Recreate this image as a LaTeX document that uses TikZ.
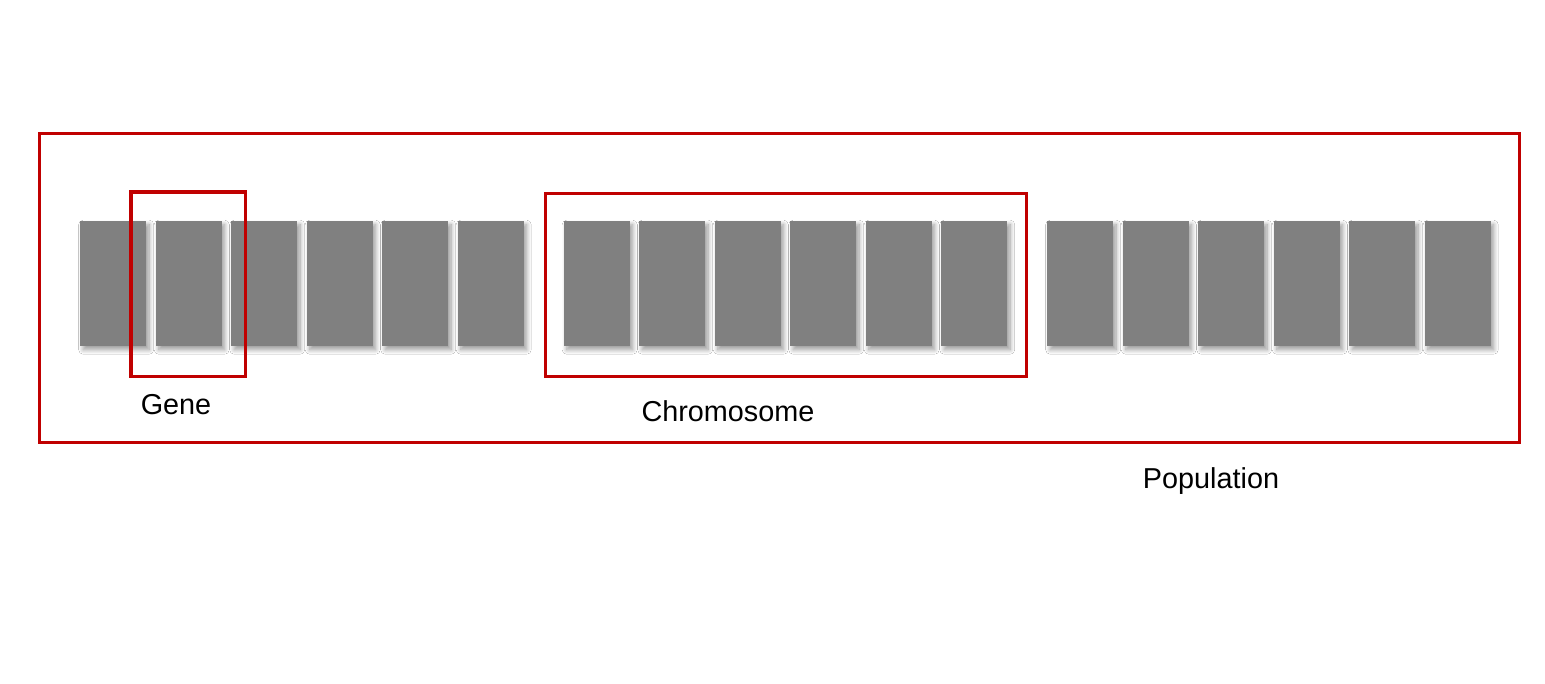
\documentclass[tikz,border=0pt]{standalone}
\usepackage{fontspec}
\setmainfont{Liberation Sans}
\usetikzlibrary{shadows.blur}
\definecolor{framered}{HTML}{C00000}
\definecolor{genegray}{HTML}{808080}
\begin{document}
\begin{tikzpicture}[x=1pt,y=-1pt,
  gene/.style={rectangle, fill=genegray, draw=none, minimum width=66pt, minimum height=125pt, inner sep=0pt, anchor=north west,
    blur shadow={shadow xshift=3pt, shadow yshift=-3.5pt, shadow blur radius=4.5pt, shadow blur steps=12, shadow opacity=40}},
  frame/.style={draw=framered, line width=3.5pt},
  lbl/.style={font=\fontsize{28.8}{34}\selectfont, inner sep=0pt}]
\useasboundingbox (0,0) rectangle (1545,683);
\fill[white] (0,0) rectangle (1545,683);
\foreach \g in {0,1,2}{
  \foreach \k in {0,...,5}{
    \pgfmathsetmacro{\xx}{80+483.5*\g+75.5*\k}
    \pgfmathtruncatemacro{\nn}{6*\g+\k+1}
    \node[gene] (g\nn) at (\xx,221) {};
  }
}
\draw[frame] (39.3,133.3) rectangle (1519.7,442.7);
\draw[frame] (131,192) rectangle (245.7,376.5);
\draw[frame] (545.7,193.3) rectangle (1026.5,376.5);
\node[lbl] (gene) at (176,405) {Gene};
\node[lbl] (chrom) at (728,411) {Chromosome};
\node[lbl] (pop) at (1211,481) {Population};
\end{tikzpicture}
\end{document}
